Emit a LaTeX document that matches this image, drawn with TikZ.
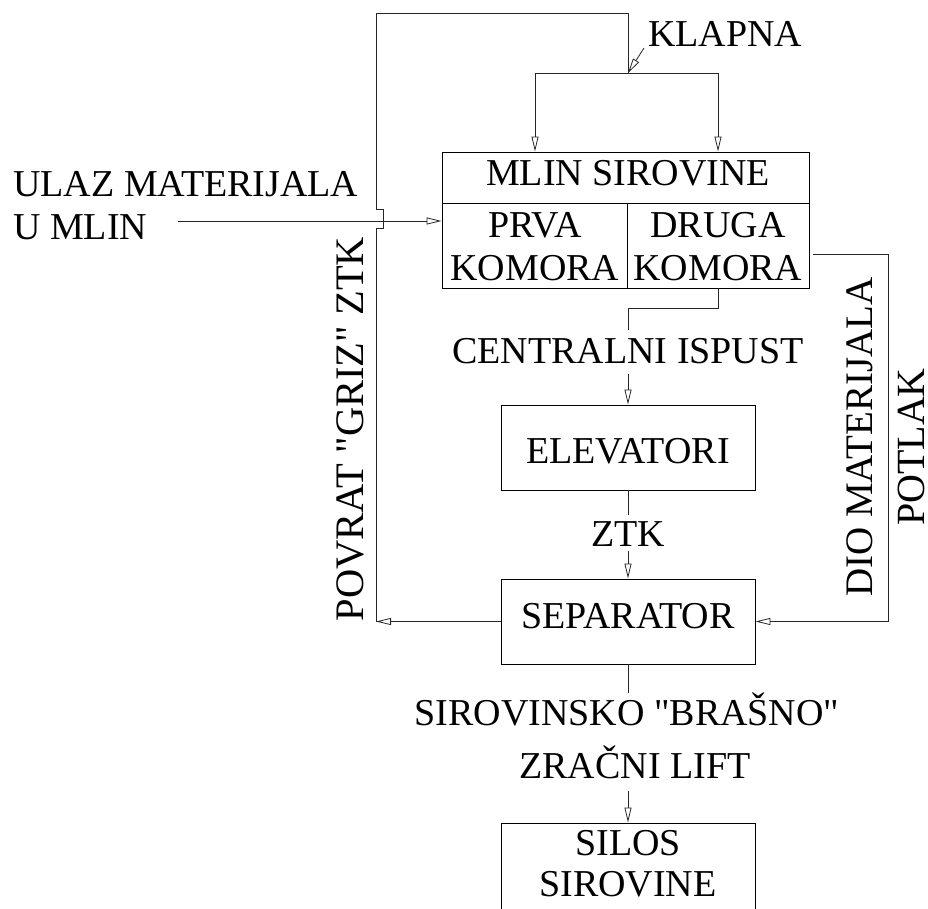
\documentclass[tikz,border=0pt]{standalone}
\usepackage{fontspec}
\newfontfamily\tnr{Liberation Serif}
\usetikzlibrary{arrows.meta}
\begin{document}
\begin{tikzpicture}[x=1pt,y=-1pt,
  box/.style={draw, line width=0.9pt, inner sep=0pt, minimum width=254pt, minimum height=85pt},
  lbl/.style={inner sep=0pt, anchor=base, text depth=0pt, font=\tnr\fontsize{38}{45}\selectfont},
  conn/.style={line width=0.8pt, draw=black!85},
  arr/.style={conn, -{Triangle[open, length=15pt, width=7pt]}}]
\useasboundingbox (0,0) rectangle (928,909);
\clip (0,0) rectangle (928,909);

% boxes
\node[box, minimum width=367pt, minimum height=136pt] (mlin) at (625.5,220) {};
\draw[line width=0.8pt] (442,203) -- (809,203);
\draw[line width=0.8pt] (627,203) -- (627,288);
\node[box] (elev) at (628,447.5) {};
\node[box] (sep) at (628,621.5) {};
\node[box, minimum height=137pt] (silos) at (628,891.5) {};

% texts
\node[lbl] (tmlin) at (628,186) {MLIN SIROVINE};
\node[lbl] (tprva) at (535,237) {PRVA};
\node[lbl] (tkom1) at (535,280) {KOMORA};
\node[lbl] (tdruga) at (718,237) {DRUGA};
\node[lbl] (tkom2) at (718,280) {KOMORA};
\node[lbl, anchor=base west] (tulaz1) at (13,197) {ULAZ MATERIJALA};
\node[lbl, anchor=base west] (tulaz2) at (13,240) {U MLIN};
\node[lbl, anchor=base west] (tklapna) at (648,47) {KLAPNA};
\node[lbl] (tcent) at (628,363) {CENTRALNI ISPUST};
\node[lbl] (telev) at (628,463) {ELEVATORI};
\node[lbl] (tztk) at (628,546) {ZTK};
\node[lbl] (tsep) at (628,628) {SEPARATOR};
\node[lbl] (tbrasno) at (627,725) {SIROVINSKO "BRAŠNO"};
\node[lbl] (tlift) at (635,778) {ZRAČNI LIFT};
\node[lbl] (tsilos1) at (628,855) {SILOS};
\node[lbl] (tsilos2) at (628,896) {SIROVINE};
\node[lbl, rotate=90, font=\tnr\fontsize{40.5}{46}\selectfont] (tpovrat) at (363,429) {POVRAT "GRIZ" ZTK};
\node[lbl, rotate=90, font=\tnr\fontsize{39}{46}\selectfont] (tdio) at (872,437) {DIO MATERIJALA};
\node[lbl, rotate=90, font=\tnr\fontsize{40}{46}\selectfont] (tpotlak) at (924,447) {POTLAK};

% coordinates
\coordinate (ret) at (376,621.5);
\coordinate (top) at (628,13);
\coordinate (split) at (628,73);
\coordinate (sl) at (535,73);
\coordinate (sr) at (718,73);
\coordinate (in) at (178,221);
\coordinate (kl) at (644,48);
\coordinate (rs) at (813,254);

% return loop
\draw[arr] (sep.west) -- (ret);
\draw[conn] (ret) -- (376,228) -- (383,228) -- (383,209) -- (376,209) -- (376,13) -- (top) -- (split);
\draw[conn] (sl) -- (sr);
\draw[arr] (sl) -- (sl |- mlin.north);
\draw[arr] (sr) -- (sr |- mlin.north);
\draw[arr] (kl) -- (split);

% input
\draw[arr] (in) -- (in -| mlin.west);

% central outlet
\draw[conn] (718,288) -- (718,308) -- (628,308) -- (628,330);
\draw[arr] (628,374) -- (elev.north);

% elevator to separator
\draw[conn] (elev.south) -- (628,515);
\draw[arr] (628,551) -- (sep.north);

% right return
\draw[arr] (rs) -- (888,254) -- (888,621.5) -- (sep.east);

% separator to silos
\draw[conn] (sep.south) -- (628,693);
\draw[arr] (628,791) -- (silos.north);
\end{tikzpicture}
\end{document}
